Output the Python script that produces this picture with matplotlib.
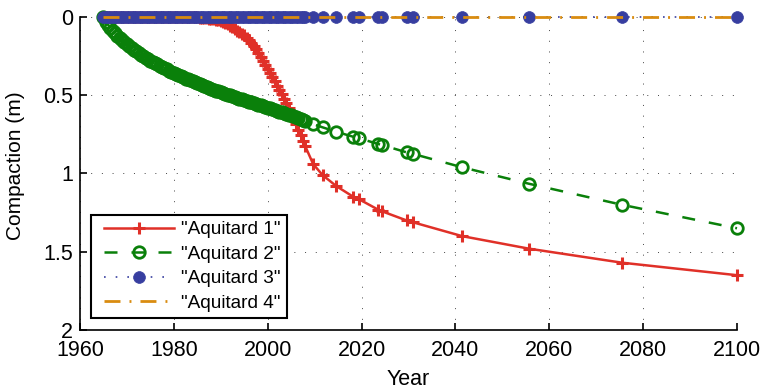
#!/usr/bin/env python3
"""Aquitard compaction vs. year"""
import matplotlib
matplotlib.use('Agg')
import matplotlib.pyplot as plt
from matplotlib.legend_handler import HandlerLine2D

plt.rcParams['font.family'] = ['Liberation Sans', 'DejaVu Sans']

# ── Data ──────────────────────────────────────────────────────
years = [
    1965.0, 1965.5, 1966.0, 1966.5, 1967.0, 1967.5, 1968.0, 1968.5, 1969.0, 1969.5,
    1970.0, 1970.5, 1971.0, 1971.5, 1972.0, 1972.5, 1973.0, 1973.5, 1974.0, 1974.5,
    1975.0, 1975.5, 1976.0, 1976.5, 1977.0, 1977.5, 1978.0, 1978.5, 1979.0, 1979.5,
    1980.0, 1980.5, 1981.0, 1981.5, 1982.0, 1982.5, 1983.0, 1983.5, 1984.0, 1984.5,
    1985.0, 1985.5, 1986.0, 1986.5, 1987.0, 1987.5, 1988.0, 1988.5, 1989.0, 1989.5,
    1990.0, 1990.5, 1991.0, 1991.5, 1992.0, 1992.5, 1993.0, 1993.5, 1994.0, 1994.5,
    1995.0, 1995.5, 1996.0, 1996.5, 1997.0, 1997.5, 1998.0, 1998.5, 1999.0, 1999.5,
    2000.0, 2000.5, 2001.0, 2001.5, 2002.0, 2002.5, 2003.0, 2003.5, 2004.0, 2004.5,
    2005.0, 2005.5, 2006.0, 2006.5, 2007.0, 2007.5, 2008.0,
    2009.7, 2011.7, 2014.6, 2018.2, 2019.5, 2023.6, 2024.4, 2029.6, 2031.0,
    2041.4, 2055.6, 2075.5, 2100.0,
]

aquitard1 = [
    0, 0, 0, 0, 0, 0, 0, 0, 0, 0,
    0, 0, 0, 0, 0, 0, 0, 0, 0, 0,
    0, 0, 0, 0, 0, 0, 0, 0, 0, 0,
    0, 0, 0, 0, 0, 0, 0, 0, 0, 0,
    0.003, 0.004, 0.006, 0.007, 0.009, 0.011, 0.013, 0.015, 0.018, 0.021,
    0.025, 0.030, 0.037, 0.045, 0.055, 0.066, 0.078, 0.087, 0.097, 0.107,
    0.118, 0.132, 0.148, 0.166, 0.185, 0.207, 0.230, 0.255, 0.280, 0.305,
    0.330, 0.357, 0.385, 0.412, 0.440, 0.467, 0.495, 0.522, 0.550, 0.582,
    0.615, 0.650, 0.685, 0.720, 0.755, 0.790, 0.825,
    0.94, 1.01, 1.08, 1.148, 1.165, 1.232, 1.242, 1.30, 1.312,
    1.40, 1.48, 1.57, 1.65,
]

aquitard2 = [
    0.000, 0.030, 0.050, 0.070, 0.090, 0.105, 0.120, 0.135, 0.150, 0.162,
    0.175, 0.187, 0.198, 0.209, 0.220, 0.230, 0.240, 0.250, 0.260, 0.269,
    0.278, 0.287, 0.295, 0.303, 0.311, 0.319, 0.327, 0.335, 0.343, 0.351,
    0.358, 0.365, 0.372, 0.379, 0.386, 0.393, 0.399, 0.405, 0.412, 0.418,
    0.424, 0.430, 0.436, 0.442, 0.448, 0.454, 0.459, 0.465, 0.470, 0.476,
    0.481, 0.486, 0.491, 0.496, 0.501, 0.506, 0.511, 0.516, 0.521, 0.526,
    0.531, 0.536, 0.540, 0.545, 0.550, 0.555, 0.560, 0.565, 0.569, 0.574,
    0.579, 0.584, 0.589, 0.594, 0.599, 0.604, 0.609, 0.614, 0.619, 0.624,
    0.629, 0.634, 0.640, 0.645, 0.651, 0.657, 0.664,
    0.685, 0.705, 0.733, 0.765, 0.775, 0.812, 0.818, 0.865, 0.875,
    0.96, 1.065, 1.20, 1.35,
]

# aquitards 3 and 4 show no compaction at all
aquitard3 = [0.0] * len(years)
aquitard4 = [0.0] * len(years)

labels = ['"Aquitard 1"', '"Aquitard 2"', '"Aquitard 3"', '"Aquitard 4"']
xticks = [1960, 1980, 2000, 2020, 2040, 2060, 2080, 2100]
yticks = [0, 0.5, 1, 1.5, 2]
ytick_labels = ['0', '0.5', '1', '1.5', '2']

# ── Figure ───────────────────────────────────────────────────
fig = plt.figure(figsize=(7.61, 3.89), dpi=100, facecolor='white')
ax = fig.add_axes([0.105, 0.1517, 0.8635, 0.8046])

ax.plot(years, aquitard1, color='#e03028', linestyle='-', linewidth=1.8,
        marker='+', markersize=9, markeredgewidth=2.2, label=labels[0], clip_on=False)
ax.plot(years, aquitard2, color='#0a800a', linestyle=(0, (5.2, 5.6)), linewidth=1.8,
        marker='o', markersize=8.3, markeredgewidth=2.0, markerfacecolor='none',
        label=labels[1], clip_on=False)
ax.plot(years, aquitard3, color='#373ea0', linestyle=(0, (1, 6)), linewidth=1.2,
        marker='o', markersize=8.5, markeredgewidth=0.5, label=labels[2], clip_on=False)
ax.plot(years, aquitard4, color='#d98c10', linestyle=(0, (5.75, 3.25, 0.7, 3.25)), linewidth=2,
        label=labels[3], clip_on=False)

ax.set_xlim(1960, 2100)
ax.set_ylim(2, 0)
ax.set_xticks(xticks)
ax.set_yticks(yticks)
ax.set_yticklabels(ytick_labels)

ax.grid(True, color='#444444', linestyle=(0, (1, 10)), linewidth=0.7)
ax.set_axisbelow(True)
for side in ['top', 'right']:
    ax.spines[side].set_visible(False)
for side in ['left', 'bottom']:
    ax.spines[side].set_linewidth(1.2)

ax.tick_params(direction='in', length=5, width=1.2, labelsize=15.5, colors='black')
ax.tick_params(axis='x', pad=7)
ax.tick_params(axis='y', pad=5)

ax.set_xlabel('Year', fontsize=15.5)
ax.set_ylabel('Compaction (m)', fontsize=15)
ax.xaxis.set_label_coords(0.5, -0.125)
ax.yaxis.set_label_coords(-0.084, 0.524)

# legend: extra left padding in front of the handles
handler = HandlerLine2D(xpad=0.33)
leg = ax.legend(loc='lower left', bbox_to_anchor=(0.0175, 0.0383), borderaxespad=0,
                fontsize=13.7, handlelength=4.02, handletextpad=0.39, labelspacing=0.38,
                borderpad=0.315, numpoints=1, fancybox=False, framealpha=1,
                edgecolor='black',
                handler_map={l: handler for l in ax.get_lines()})
leg.get_frame().set_linewidth(1.5)

fig.savefig('out.png', dpi=100, facecolor='white')
plt.close()
